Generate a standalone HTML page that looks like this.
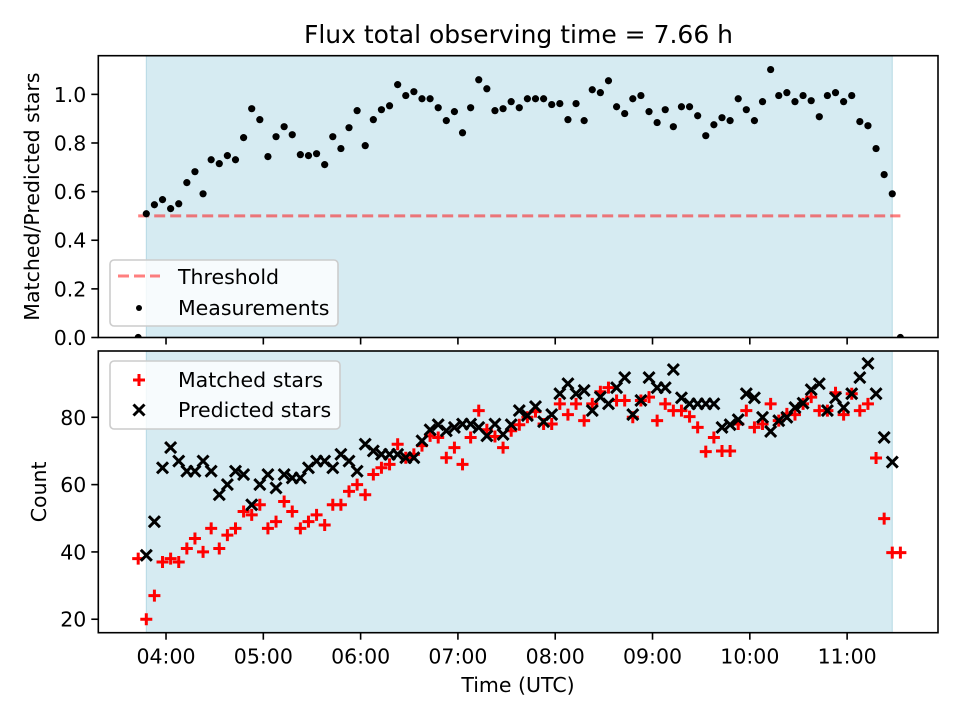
<!DOCTYPE html>
<html><head><meta charset="utf-8"><style>
html,body{margin:0;padding:0;background:#fff}
svg{display:block}
text{font-family:"DejaVu Sans","Liberation Sans",sans-serif;fill:#000}
</style></head><body>
<svg id="chart" width="960" height="720" viewBox="0 0 960 720" xmlns="http://www.w3.org/2000/svg"></svg>
<script>
// ---- data ----
const startHour = 3.714;          // first sample time (h, UTC)
const stepHours = 1/12;           // 5 minute cadence
const ratioValues = [0,0.509,0.546,0.567,0.53,0.55,0.637,0.682,0.591,0.731,0.715,0.748,0.731,0.822,0.941,0.896,0.744,0.826,0.867,0.834,0.752,0.748,0.756,0.711,0.826,0.777,0.863,0.933,0.789,0.896,0.937,0.953,1.04,0.995,1.011,0.982,0.982,0.945,0.892,0.929,0.842,0.945,1.06,1.023,0.933,0.941,0.97,0.945,0.982,0.982,0.982,0.958,0.962,0.896,0.962,0.892,1.019,1.007,1.056,0.949,0.921,0.982,0.995,0.929,0.884,0.937,0.867,0.949,0.949,0.912,0.83,0.875,0.904,0.892,0.982,0.937,0.892,0.97,1.102,0.995,1.007,0.97,0.995,0.974,0.908,0.995,1.007,0.97,0.995,0.888,0.871,0.777,0.67,0.591,0];
const matchedValues = [38,20,27,37,38,37,41,44,40,47,41,45,47,52,51,54,47,49,55,52,47,49,51,48,54,54,58,60,57,63,65,66,72,68,69,71.6,74.5,74,68,71,66,74,82,76.3,74.3,71,76,77.8,80,81.7,78,78,84,80.8,84,79,84,87.6,88.8,85,85,80,85,86,79,84,82,82,80.2,77,69.8,74,70,70,78,82,77,78,84,79,81,80.8,84,86,82,82,87.3,80.8,87,82,84,67.9,49.9,39.8,39.8];
const predictedValues = [null,39,49,65,71,67,64,64,67,64,57,60,64,63,54,60,63,59,63,62,62,65,67,67,65,69,67,64,72,70,69,69,69,68,68,73,76.3,77.8,76,77,78,78,77,74.5,78,74.9,77.8,82,80.5,83.2,78.7,80.8,87,90,87,88,82,86,84,88.8,91.8,80.8,85,91.8,88.8,88.8,94.2,85.8,84,84,84,84,77,77.8,79.3,87,85.8,80,75.8,79,80,82.9,84.2,88.2,90,82,85.8,82.9,87,91.8,96,87,74,66.7,null];
const thresholdValue = 0.5;
const xTickHours = [4,5,6,7,8,9,10,11];
const xTickLabels = ["04:00","05:00","06:00","07:00","08:00","09:00","10:00","11:00"];
const topTicks = [0,0.2,0.4,0.6,0.8,1.0];
const topTickLabels = ["0.0","0.2","0.4","0.6","0.8","1.0"];
const botTicks = [20,40,60,80];
const botTickLabels = ["20","40","60","80"];

// ---- geometry ----
const L=98.3, R=938;
const TT=55.7, TB=337.5, BT=351, BB=632.7;
const xMin=3.304, xMax=11.934;
const yTopMin=0, yTopMax=1.159;
const yBotMin=16.0, yBotMax=99.7;
const X = h => L + (h-xMin)/(xMax-xMin)*(R-L);
const YT = v => TB - (v-yTopMin)/(yTopMax-yTopMin)*(TB-TT);
const YB = v => BB - (v-yBotMin)/(yBotMax-yBotMin)*(BB-BT);
const timeAt = i => startHour + i*stepHours;

const svg = document.getElementById('chart');
const NS='http://www.w3.org/2000/svg';
function mk(tag, attrs, parent){const e=document.createElementNS(NS,tag);for(const k in attrs)e.setAttribute(k,attrs[k]);(parent||svg).appendChild(e);return e;}

const firstI = predictedValues.findIndex(v=>v!==null);
let lastI = predictedValues.length-1; while(predictedValues[lastI]===null) lastI--;

function panel(ptop, pbottom, pname){
  const g = mk('g',{});
  
  
  const clip = mk('clipPath',{id:pname+'-clip'},g);
  mk('rect',{x:L,y:ptop,width:R-L,height:pbottom-ptop},clip);
  const sh = mk('rect',{x:X(timeAt(firstI)),y:ptop,width:X(timeAt(lastI))-X(timeAt(firstI)),height:pbottom-ptop,fill:'rgba(173,216,230,0.5)',stroke:'rgba(150,200,215,0.6)','stroke-width':1},g);
  
  
  const data = mk('g',{'clip-path':'url(#'+pname+'-clip)'},g);
  return {g, data};
}

// ===== top panel =====
const topPanel = panel(TT, TB, 'ratio-panel');
const thr = mk('line',{x1:X(timeAt(0)),x2:X(timeAt(ratioValues.length-1)),y1:YT(thresholdValue),y2:YT(thresholdValue),stroke:'rgba(255,0,0,0.5)','stroke-width':3,'stroke-dasharray':'11,5'},topPanel.data);


ratioValues.forEach((v,i)=>{
  const c = mk('circle',{cx:X(timeAt(i)),cy:YT(v),r:3.6,fill:'#000'},topPanel.data);
  
  
});

// ===== bottom panel =====
const botPanel = panel(BT, BB, 'count-panel');
function plus(cx,cy,parent){return mk('path',{d:`M${cx-6},${cy}H${cx+6}M${cx},${cy-6}V${cy+6}`,stroke:'#ff0000','stroke-width':3,fill:'none'},parent);}
function cross(cx,cy,parent){return mk('path',{d:`M${cx-5.5},${cy-5.5}L${cx+5.5},${cy+5.5}M${cx-5.5},${cy+5.5}L${cx+5.5},${cy-5.5}`,stroke:'#000','stroke-width':3,fill:'none'},parent);}
matchedValues.forEach((v,i)=>{
  if(v===null) return;
  const p = plus(X(timeAt(i)),YB(v),botPanel.data);
  
  
});
predictedValues.forEach((v,i)=>{
  if(v===null) return;
  const p = cross(X(timeAt(i)),YB(v),botPanel.data);
  
  
});

// ===== axes, ticks =====
function drawFrame(ft,fb,fname){
  const r = mk('rect',{x:L,y:ft,width:R-L,height:fb-ft,fill:'none',stroke:'#000','stroke-width':1.6});
  
  
}
drawFrame(TT,TB,'ratio-axes-frame');
drawFrame(BT,BB,'count-axes-frame');

xTickHours.forEach((h,i)=>{
  [TB,BB].forEach(yb=>{
    const t = mk('line',{x1:X(h),x2:X(h),y1:yb,y2:yb+7,stroke:'#000','stroke-width':1.6});
    
    
  });
  const lb = mk('text',{x:X(h),y:BB+31,'text-anchor':'middle','font-size':20.5});
  lb.textContent = xTickLabels[i];
  
  
});
topTicks.forEach((v,i)=>{
  const t = mk('line',{x1:L-7,x2:L,y1:YT(v),y2:YT(v),stroke:'#000','stroke-width':1.6});
  
  
  const lb = mk('text',{x:L-12,y:YT(v)+7.5,'text-anchor':'end','font-size':20.5});
  lb.textContent = topTickLabels[i];
  
  
});
botTicks.forEach((v,i)=>{
  const t = mk('line',{x1:L-7,x2:L,y1:YB(v),y2:YB(v),stroke:'#000','stroke-width':1.6});
  
  
  const lb = mk('text',{x:L-12,y:YB(v)+7.5,'text-anchor':'end','font-size':20.5});
  lb.textContent = botTickLabels[i];
  
  
});

// ===== legends =====
function legendBox(x,y,w,h,lname){
  const r = mk('rect',{x:x,y:y,width:w,height:h,rx:4,fill:'rgba(255,255,255,0.8)',stroke:'#cccccc','stroke-width':1.6});
  
  
}
legendBox(110,260,228,66,'ratio-legend');
const lgThr = mk('line',{x1:118,x2:160,y1:276,y2:276,stroke:'rgba(255,0,0,0.5)','stroke-width':3,'stroke-dasharray':'11,5'});


const lgDot = mk('circle',{cx:139,cy:308,r:3,fill:'#000'});


const t1 = mk('text',{x:178,y:284,'font-size':20.5}); t1.textContent='Threshold';


const t2 = mk('text',{x:178,y:315,'font-size':20.5}); t2.textContent='Measurements';



legendBox(110,361,230,68,'count-legend');
const lp = plus(139,380,svg);


const lx = cross(139,410,svg);


const t3 = mk('text',{x:178,y:387,'font-size':20.5}); t3.textContent='Matched stars';


const t4 = mk('text',{x:178,y:417,'font-size':20.5}); t4.textContent='Predicted stars';



// ===== titles =====
const chartTitle = mk('text',{x:518.5,y:43,'text-anchor':'middle','font-size':25}); chartTitle.textContent='Flux total observing time = 7.66 h';


const yl1 = mk('text',{x:0,y:0,'text-anchor':'middle','font-size':20.5,transform:`translate(39,${(TT+TB)/2}) rotate(-90)`}); yl1.textContent='Matched/Predicted stars';


const yl2 = mk('text',{x:0,y:0,'text-anchor':'middle','font-size':20.5,transform:`translate(46,${(BT+BB)/2}) rotate(-90)`}); yl2.textContent='Count';


const xl = mk('text',{x:518,y:692,'text-anchor':'middle','font-size':20.5}); xl.textContent='Time (UTC)';


</script>
</body></html>
